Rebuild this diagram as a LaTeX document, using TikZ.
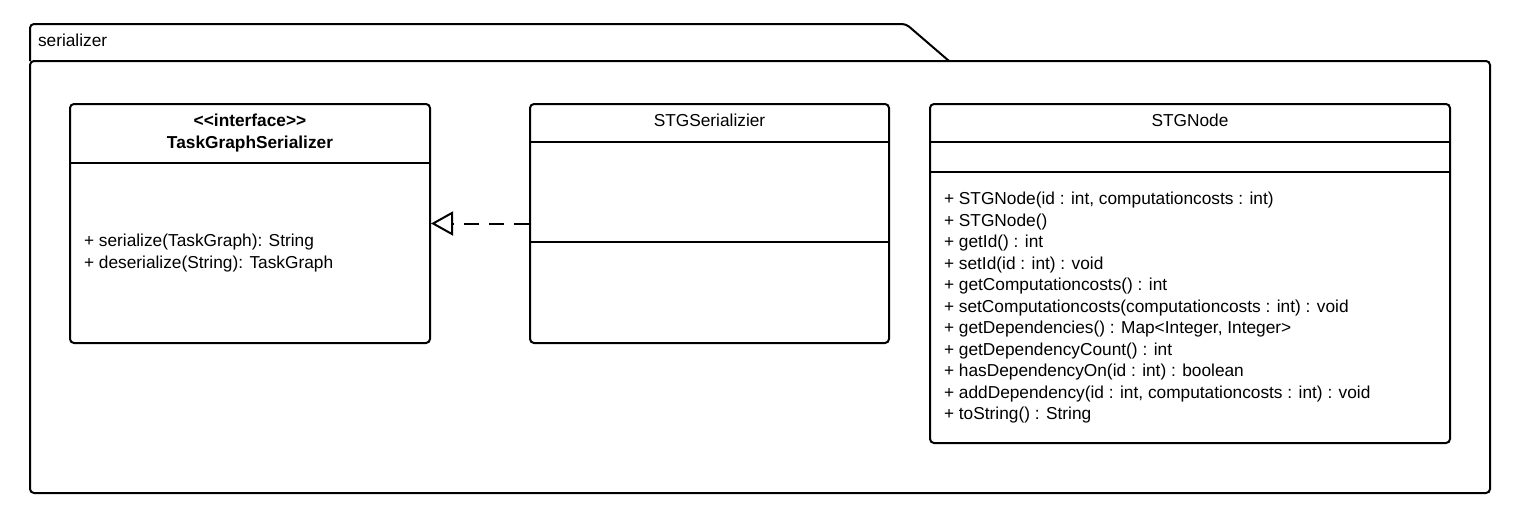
\documentclass[tikz,border=0pt]{standalone}
\usepackage{fontspec}
\setmainfont{Liberation Sans}
\usetikzlibrary{arrows.meta}
\begin{document}
\begin{tikzpicture}[x=1pt,y=-1pt,line width=2pt,
  frame/.style={draw=black,line width=2pt,rounded corners=4pt,inner sep=0pt,fill=none},
  txt/.style={inner sep=0pt,font=\fontsize{17.3}{20}\selectfont},
  ttl/.style={txt,anchor=base},
  meth/.style={txt,anchor=base west},
  realize/.style={dashed,dash pattern=on 15pt off 10pt,line width=2pt,-{Triangle[open,length=22pt,width=24pt,line width=2pt]}}]
\useasboundingbox (0,0) rectangle (1514,522);
% package
\node[frame,minimum width=1460pt,minimum height=432pt] (pkg) at (760,277) {};
\draw[rounded corners=4pt] (30,61) -- (30,24) -- (906,24) -- (949,61);
\node[txt,anchor=base west] (pkgname) at (37,46.5) {serializer};
% interface
\node[frame,minimum width=360pt,minimum height=239pt] (iface) at (250,223.5) {};
\draw (iface.west |- 0,163) -- (iface.east |- 0,163);
\node[ttl,font=\fontsize{17.3}{20}\selectfont\bfseries] (ifst) at (250,126.5) {{<}{<}interface{>}{>}};
\node[ttl,font=\fontsize{17.3}{20}\selectfont\bfseries] (ifname) at (250,148.5) {TaskGraphSerializer};
\node[meth] (if1) at (83,246.5) {+ serialize(TaskGraph): String};
\node[meth] (if2) at (83,268.5) {+ deserialize(String): TaskGraph};
% STGSerializier
\node[frame,minimum width=359pt,minimum height=239pt] (ser) at (709.5,223.5) {};
\draw (ser.west |- 0,142) -- (ser.east |- 0,142);
\draw (ser.west |- 0,242) -- (ser.east |- 0,242);
\node[ttl] (sername) at (709.5,126.5) {STGSerializier};
% STGNode
\node[frame,minimum width=520pt,minimum height=339pt] (node) at (1190,273.5) {};
\draw (node.west |- 0,142) -- (node.east |- 0,142);
\draw (node.west |- 0,172) -- (node.east |- 0,172);
\node[ttl] (nodename) at (1190,126.5) {STGNode};
\foreach \t [count=\i from 0] in {%
  {+ STGNode(id : int, computationcosts : int)},
  {+ STGNode()},
  {+ getId() : int},
  {+ setId(id : int) : void},
  {+ getComputationcosts() : int},
  {+ setComputationcosts(computationcosts : int) : void},
  {+ getDependencies() : Map{<}Integer, Integer{>}},
  {+ getDependencyCount() : int},
  {+ hasDependencyOn(id : int) : boolean},
  {+ addDependency(id : int, computationcosts : int) : void},
  {+ toString() : String}}
  \node[meth] (nm\i) at (943,204.5+21.5*\i) {\t};
% realization
\draw[realize] (ser.west) -- (iface.east);
\end{tikzpicture}
\end{document}
